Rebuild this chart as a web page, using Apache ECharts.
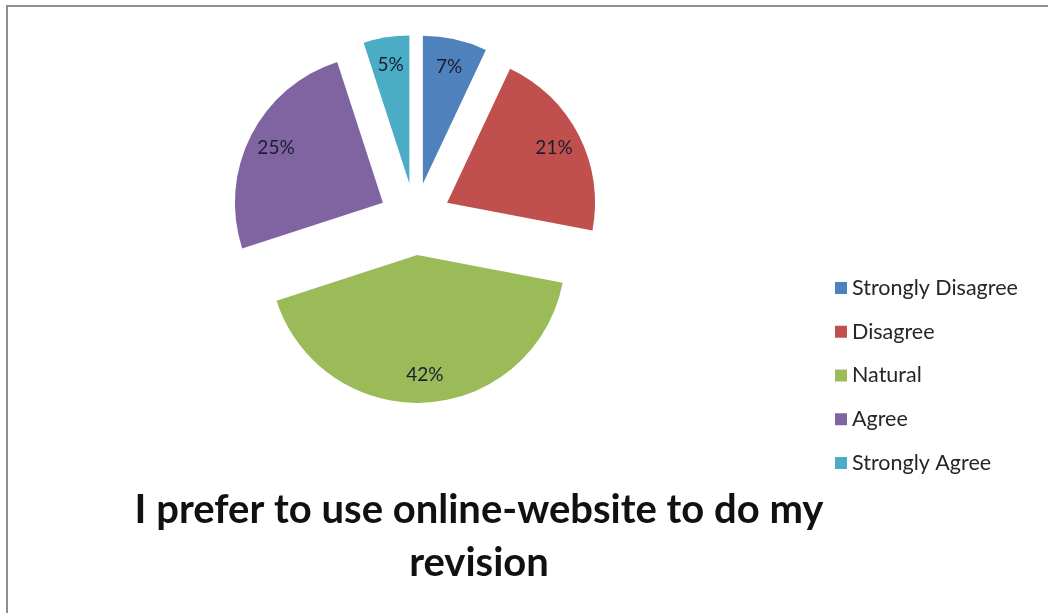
<!DOCTYPE html>
<html>
<head>
<meta charset="utf-8">
<script src="https://cdn.jsdelivr.net/npm/echarts@6/dist/echarts.min.js"></script>
<style>
  html, body { margin: 0; padding: 0; background: #fff; }
  #wrap { position: relative; width: 1048px; height: 613px; overflow: hidden; }
  #chart { position: absolute; left: 0; top: 0; width: 1048px; height: 613px; }
  #frame { position: absolute; left: 6px; top: 5px; width: 1100px; height: 700px;
           border-top: 2px solid #8e8e8e; border-left: 2px solid #8e8e8e; pointer-events: none; }
</style>
</head>
<body>
<div id="wrap">
  <div id="chart"></div>
  <div id="frame"></div>
</div>
<script>
// Survey responses for the statement in the title
const categories = ['Strongly Disagree', 'Disagree', 'Natural', 'Agree', 'Strongly Agree'];
const shares = [7, 21, 42, 25, 5];
const colors = ['#4F81BD', '#C0504D', '#9BBB59', '#8064A2', '#4BACC6'];
const titleText = 'I prefer to use online-website to do my\nrevision';

const center = [415, 219];
const outerR = 148;
const explode = 36;

const sliceData = categories.map((name, i) => ({
  name, value: shares[i], selected: true,
  itemStyle: { color: colors[i] }
}));
// transparent ring carrying the percentage labels further out toward the rim
const labelData = categories.map((name, i) => ({
  name, value: shares[i], selected: true,
  itemStyle: { color: 'rgba(0,0,0,0)' }
}));

const chart = echarts.init(document.getElementById('chart'), null, { renderer: 'canvas' });
chart.setOption({
  backgroundColor: '#ffffff',
  animation: false,
  color: colors,
  title: {
    text: titleText,
    left: 474,
    top: 479,
    textAlign: 'center',
    textStyle: {
      fontFamily: 'Lato', fontWeight: 'bold', fontSize: 40,
      lineHeight: 53, color: '#111'
    }
  },
  legend: {
    orient: 'vertical',
    left: 835,
    top: 277,
    padding: 0,
    icon: 'rect',
    itemWidth: 12,
    itemHeight: 12,
    itemGap: 21.75,
    selectedMode: false,
    data: categories,
    textStyle: { fontFamily: 'Lato', fontSize: 21.5, lineHeight: 22, color: '#262626' }
  },
  series: [
    {
      type: 'pie',
      center: center,
      radius: [0, outerR],
      startAngle: 90,
      clockwise: true,
      selectedMode: 'multiple',
      selectedOffset: explode,
      avoidLabelOverlap: false,
      label: { show: false },
      labelLine: { show: false },
      emphasis: { disabled: true },
      select: { itemStyle: {} },
      itemStyle: { borderWidth: 0 },
      data: sliceData
    },
    {
      type: 'pie',
      silent: true,
      center: center,
      radius: [86, outerR],
      startAngle: 90,
      clockwise: true,
      selectedMode: 'multiple',
      selectedOffset: explode,
      avoidLabelOverlap: false,
      emphasis: { disabled: true },
      labelLine: { show: false },
      label: {
        show: true,
        position: 'inside',
        formatter: p => p.value + '%',
        fontFamily: 'Lato',
        fontSize: 19,
        color: '#1c1c30'
      },
      itemStyle: { borderWidth: 0 },
      data: labelData
    }
  ]
});
</script>
</body>
</html>
